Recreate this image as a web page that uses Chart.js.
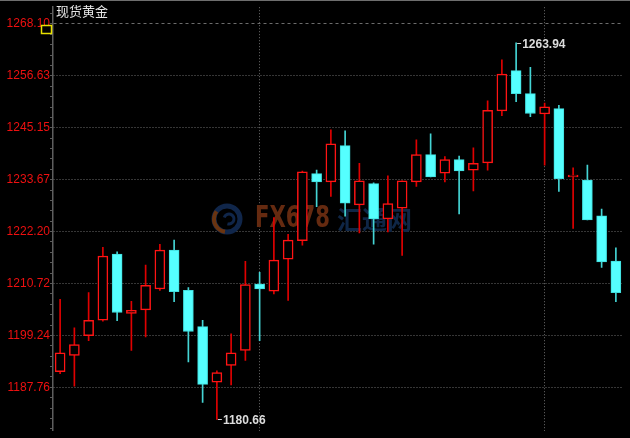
<!DOCTYPE html>
<html>
<head>
    <meta charset="UTF-8">
    <title>现货黄金</title>
    <script src="https://cdn.jsdelivr.net/npm/chart.js"></script>
    <style>
        html, body { margin: 0; padding: 0; background: #000; }
        #chart_box { width: 630px; height: 438px; }
    </style>
</head>
<body>
    <div id="chart_box"><canvas id="gold_chart_canvas"></canvas></div>

<script>
//                                  DATA
//---------------------------------------------------------------------------
const chart_title = '现货黄金';
const candle_days = ['1','2','3','4','5','6','7','8','9','10','11','12','13','14','15','16','17','18','19','20',
                     '21','22','23','24','25','26','27','28','29','30','31','32','33','34','35','36','37','38','39','40'];
const open_prices  = [1191.2,1194.8,1199.2,1202.6,1217.2,1204.1,1204.9,1209.5,1218.1,1209.2,
                      1201.2,1188.9,1192.6,1195.9,1210.6,1209.0,1216.1,1220.2,1235.0,1233.2,
                      1241.2,1228.1,1232.8,1225.0,1227.4,1233.2,1239.2,1235.1,1238.1,1235.8,
                      1237.4,1248.9,1257.8,1252.7,1248.2,1249.4,1234.3,1233.6,1225.7,1215.7];
const high_prices  = [1207.2,1200.9,1208.7,1218.7,1217.7,1206.8,1214.8,1219.4,1220.3,1209.8,
                      1202.6,1191.4,1199.6,1215.6,1213.2,1225.3,1221.6,1235.6,1235.8,1244.7,
                      1244.5,1237.3,1233.0,1234.5,1233.4,1242.5,1243.8,1238.8,1238.9,1240.7,
                      1251.1,1260.2,1263.94,1258.5,1250.6,1250.1,1236.3,1236.9,1227.2,1218.6];
const low_prices   = [1190.8,1188.0,1198.1,1202.4,1202.5,1195.9,1198.9,1209.2,1206.7,1193.4,
                      1184.4,1180.66,1188.3,1193.7,1198.1,1208.4,1207.0,1219.2,1227.7,1230.0,
                      1225.6,1221.9,1219.4,1222.1,1216.9,1232.2,1234.3,1233.2,1226.1,1231.2,
                      1235.8,1247.8,1250.9,1247.6,1236.9,1231.1,1222.9,1224.8,1214.3,1206.7];
const close_prices = [1195.4,1197.2,1202.6,1216.8,1204.3,1204.8,1210.3,1218.1,1208.9,1200.1,
                      1188.4,1191.0,1195.4,1210.5,1209.5,1215.9,1220.3,1235.4,1233.2,1241.6,
                      1228.5,1233.4,1225.0,1228.4,1233.4,1239.2,1234.3,1238.1,1235.6,1237.3,
                      1249.0,1257.0,1252.7,1248.3,1249.8,1233.9,1234.7,1224.8,1215.5,1208.7];
const y_tick_labels = [1268.10, 1256.63, 1245.15, 1233.67, 1222.20, 1210.72, 1199.24, 1187.76];
const month_break_days = ['15', '35'];

const y_min = 1178.15;
const y_max = 1271.81;

//                                  COLOURS
//---------------------------------------------------------------------------
const up_border = '#ff1414';
const up_wick = '#e00000';
const down_fill = '#55ffff';
const down_border = '#40dede';
const down_wick = '#44d4d4';

const is_up = close_prices.map((c, i) => c >= open_prices[i]);

function isMajorTick(value) {
    return y_tick_labels.some(t => Math.abs(t - value) < 0.001);
}

//                                  EXTRA DRAWING (title, marks, watermark)
//---------------------------------------------------------------------------
const watermarkPlugin = {
    id: 'watermark',
    beforeDatasetsDraw(chart) {
        const ctx = chart.ctx;
        ctx.save();
        // round logo
        ctx.lineWidth = 5;
        ctx.strokeStyle = '#10264a';
        ctx.beginPath();
        ctx.arc(227, 219, 13, 0, Math.PI * 2);
        ctx.stroke();
        ctx.strokeStyle = '#6a3410';
        ctx.lineWidth = 4;
        ctx.beginPath();
        ctx.arc(227, 219, 13, Math.PI * 0.55, Math.PI * 1.2);
        ctx.stroke();
        ctx.strokeStyle = '#10264a';
        ctx.lineWidth = 3;
        ctx.beginPath();
        ctx.arc(229, 219, 5, Math.PI * 1.1, Math.PI * 2.6);
        ctx.stroke();
        // text
        ctx.font = 'bold 30px "DejaVu Sans Condensed", "Liberation Sans"';
        ctx.textBaseline = 'middle';
        ctx.textAlign = 'left';
        const grad = ctx.createLinearGradient(255, 0, 330, 0);
        grad.addColorStop(0, '#57461a');
        grad.addColorStop(1, '#652a10');
        ctx.fillStyle = grad;
        ctx.fillText('FX678', 255, 219, 75);
        ctx.fillStyle = '#0f2646';
        ctx.font = 'bold 25px "Noto Sans CJK SC"';
        ctx.fillText('汇通网', 337, 219, 80);
        ctx.restore();
    }
};

const decorationsPlugin = {
    id: 'decorations',
    afterDraw(chart) {
        const ctx = chart.ctx;
        const xs = chart.scales.x;
        const ys = chart.scales.y;
        ctx.save();

        // top frame line
        ctx.strokeStyle = '#6e6e6e';
        ctx.lineWidth = 1;
        ctx.beginPath();
        ctx.moveTo(0, 0.5);
        ctx.lineTo(chart.width, 0.5);
        ctx.stroke();

        // title
        ctx.fillStyle = '#e6e6e6';
        ctx.font = '13px "Noto Sans CJK SC"';
        ctx.textBaseline = 'middle';
        ctx.textAlign = 'left';
        ctx.fillText(chart_title, 56, 11);

        // little yellow box under the top label
        ctx.strokeStyle = '#e8e000';
        ctx.lineWidth = 1.5;
        ctx.fillStyle = '#000';
        ctx.fillRect(41.5, 25.5, 10, 8);
        ctx.strokeRect(41.5, 25.5, 10, 8);

        // highest high / lowest low marks
        const hi_index = high_prices.indexOf(Math.max(...high_prices));
        const lo_index = low_prices.indexOf(Math.min(...low_prices));
        const marks = [[hi_index, high_prices[hi_index]], [lo_index, low_prices[lo_index]]];
        ctx.font = 'bold 12px "Liberation Sans"';
        marks.forEach(([i, value]) => {
            const px = xs.getPixelForValue(i);
            const py = Math.round(ys.getPixelForValue(value)) + 0.5;
            ctx.strokeStyle = '#d0d0d0';
            ctx.lineWidth = 1;
            ctx.beginPath();
            ctx.moveTo(px + 1, py);
            ctx.lineTo(px + 5, py);
            ctx.stroke();
            ctx.fillStyle = '#dcdcdc';
            ctx.fillText(value.toFixed(2), px + 6, py + 1);
        });
        ctx.restore();
    }
};

//                                  CHART
//---------------------------------------------------------------------------
const gold_chart = new Chart(document.getElementById('gold_chart_canvas'), {
    type: 'bar',
    data: {
        labels: candle_days,
        datasets: [
            {
                // candle bodies
                data: open_prices.map((o, i) => [o, close_prices[i]]),
                backgroundColor: is_up.map(up => up ? '#000000' : down_fill),
                borderColor: is_up.map(up => up ? up_border : down_border),
                borderWidth: is_up.map(up => up ? 1.5 : 1),
                borderSkipped: false,
                barThickness: 10,
                grouped: false,
            },
            {
                // wicks
                data: low_prices.map((l, i) => [l, high_prices[i]]),
                backgroundColor: is_up.map(up => up ? up_wick : down_wick),
                borderWidth: 0,
                barThickness: 1,
                grouped: false,
            },
        ],
    },
    options: {
        responsive: true,
        maintainAspectRatio: false,
        animation: false,
        layout: { padding: { top: 4, bottom: 5, left: 0, right: 7 } },
        plugins: {
            legend: { display: false },
            tooltip: { enabled: false },
        },
        scales: {
            x: {
                type: 'category',
                offset: true,
                grid: {
                    offset: false,
                    drawTicks: false,
                    color: (c) => (c.tick && month_break_days.includes(candle_days[c.index])) ? 'rgba(120,120,120,0.9)' : 'transparent',
                },
                border: { display: false, dash: [1, 2] },
                ticks: { display: false },
                afterFit: (scale) => { scale.height = 0; },
            },
            y: {
                position: 'left',
                min: y_min,
                max: y_max,
                afterBuildTicks: (scale) => {
                    // labelled ticks plus 4 small marks between each pair
                    const step = (y_tick_labels[0] - y_tick_labels[1]) / 5;
                    const values = [];
                    for (let v = y_tick_labels[0]; v <= y_max; v += step) values.push(v);
                    y_tick_labels.forEach((t, k) => {
                        values.push(t);
                        const next = y_tick_labels[k + 1];
                        const gap = next !== undefined ? (t - next) / 5 : step;
                        for (let j = 1; j < 5; j++) values.push(t - gap * j);
                    });
                    const last = y_tick_labels[y_tick_labels.length - 1];
                    for (let v = last - step * 5; v >= y_min; v -= step) values.push(v);
                    scale.ticks = values
                        .filter(v => v >= y_min && v <= y_max)
                        .sort((a, b) => a - b)
                        .filter((v, i, arr) => i === 0 || Math.abs(v - arr[i - 1]) > 0.01)
                        .map(v => ({ value: v }));
                },
                afterFit: (scale) => { scale.width = 53; },
                ticks: {
                    autoSkip: false,
                    padding: 0,
                    color: '#ee1010',
                    font: { family: '"Liberation Sans", Arial', size: 12 },
                    callback: (value) => isMajorTick(value) ? value.toFixed(2) : '',
                },
                grid: {
                    color: (c) => (c.tick && isMajorTick(c.tick.value)) ? 'rgba(120,120,120,0.9)' : 'transparent',
                    tickColor: '#5a5a5a',
                    tickLength: 3,
                    tickBorderDash: [],
                },
                border: {
                    display: true,
                    color: '#5e5e5e',
                    width: 1.5,
                    dash: (c) => (c.tick && Math.abs(c.tick.value - y_tick_labels[0]) < 0.001) ? [3, 3] : [1, 2],
                },
            },
        },
    },
    plugins: [watermarkPlugin, decorationsPlugin],
});
</script>
</body>
</html>
